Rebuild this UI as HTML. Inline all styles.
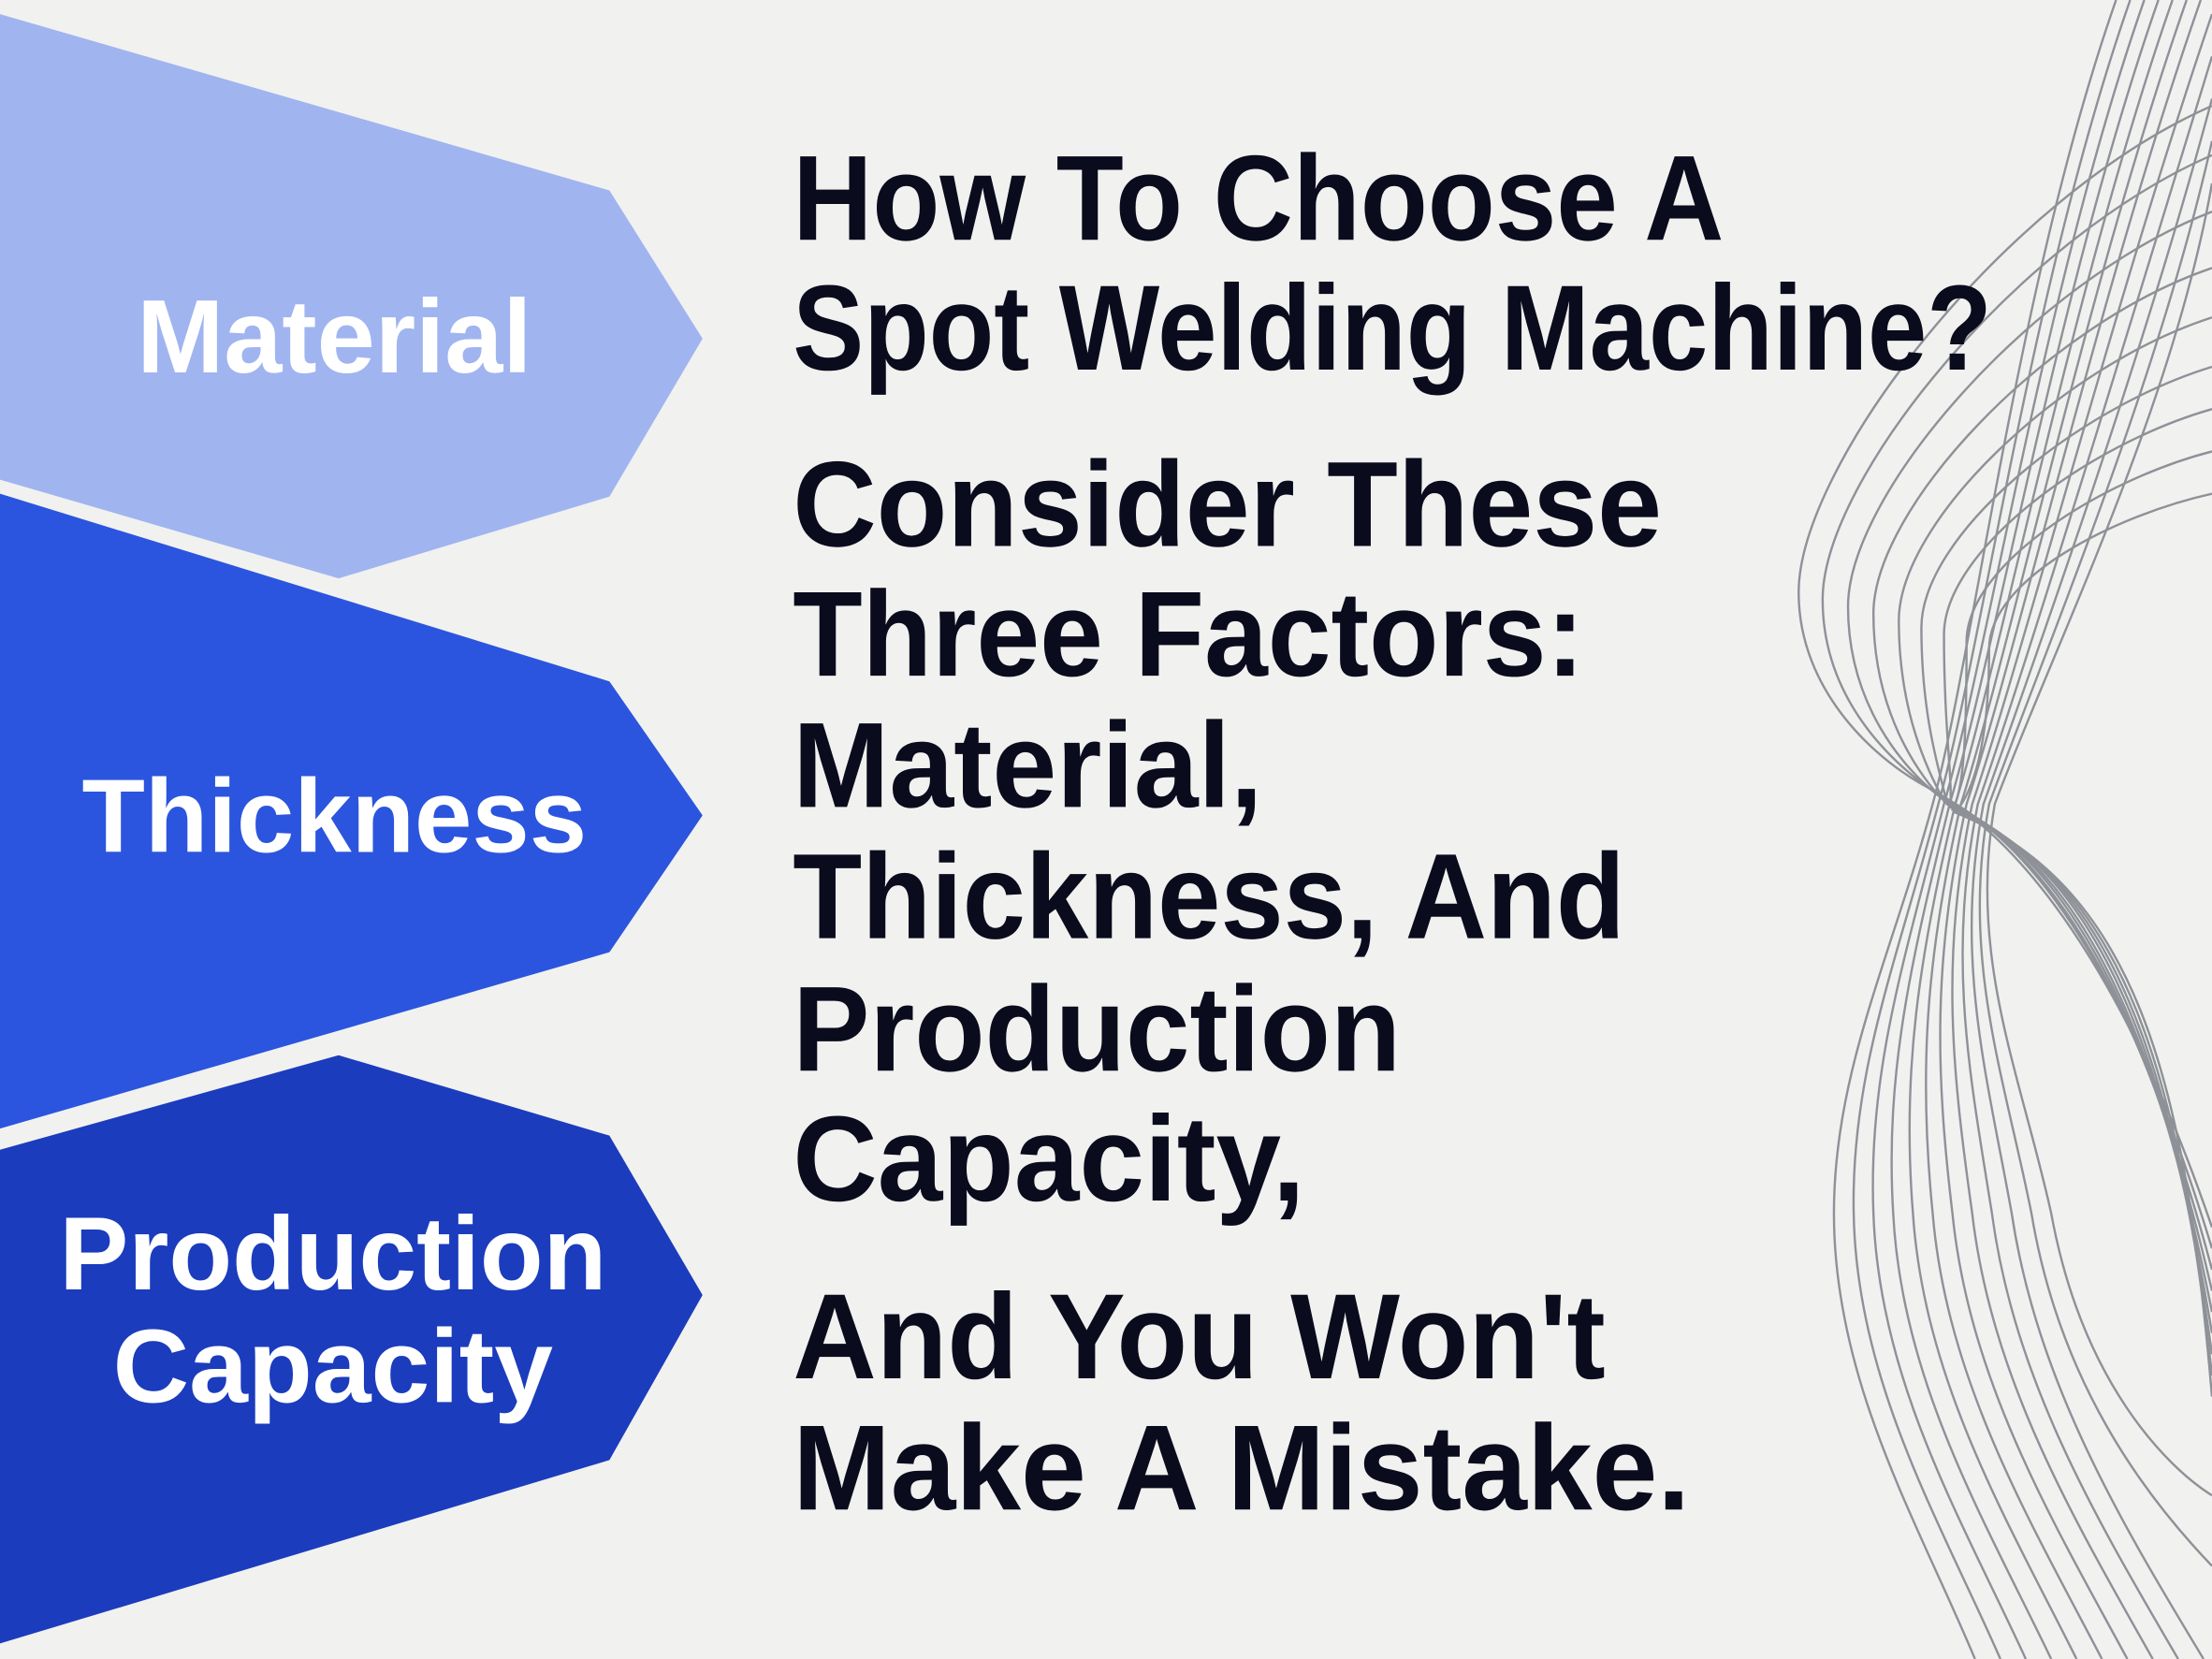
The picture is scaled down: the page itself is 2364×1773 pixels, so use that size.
<!DOCTYPE html>
<html><head><meta charset="utf-8"><style>
html,body{margin:0;padding:0;background:#f1f1ef;}
svg{display:block;}
</style></head><body>
<svg width="2364" height="1773" viewBox="0 0 1568 1176" preserveAspectRatio="none" xmlns="http://www.w3.org/2000/svg">
<rect width="1568" height="1176" fill="#f1f1ef"/>
<g fill="none" stroke="#8e9197" stroke-width="1.6">
<path d="M1500,0 C1430,200 1400,460 1370,570 C1340,680 1300,760 1300,860 C1300,980 1360,1080 1400,1176"/>
<path d="M1510,0 C1440,200 1405,460 1374,570 C1345,680 1312,760 1314,860 C1316,980 1376,1080 1418,1176"/>
<path d="M1520,0 C1450,200 1410,460 1378,570 C1350,680 1324,760 1328,860 C1332,980 1392,1080 1436,1176"/>
<path d="M1530,0 C1460,200 1415,460 1382,570 C1355,680 1336,760 1342,860 C1348,980 1408,1080 1454,1176"/>
<path d="M1540,0 C1470,200 1420,460 1386,570 C1360,680 1348,760 1356,860 C1364,980 1424,1080 1472,1176"/>
<path d="M1550,0 C1480,200 1425,460 1390,570 C1365,680 1360,760 1370,860 C1380,980 1440,1080 1490,1176"/>
<path d="M1560,0 C1490,200 1430,460 1394,570 C1370,680 1372,760 1384,860 C1396,980 1456,1080 1508,1176"/>
<path d="M1568,10 C1500,210 1435,460 1398,570 C1375,680 1384,760 1398,860 C1412,980 1472,1080 1526,1176"/>
<path d="M1568,40 C1510,230 1440,460 1402,570 C1380,680 1396,760 1412,860 C1428,980 1488,1080 1544,1176"/>
<path d="M1568,70 C1520,250 1445,460 1406,570 C1385,680 1408,760 1426,860 C1444,980 1504,1080 1562,1176"/>
<path d="M1568,100 C1530,270 1450,460 1410,570 C1390,680 1420,760 1440,860 C1460,980 1520,1060 1568,1110"/>
<path d="M1568,130 C1540,290 1455,460 1414,570 C1395,680 1432,760 1454,860 C1476,980 1536,1040 1568,1060"/>
<path d="M1568,75 C1420,140 1275,330 1275,420 C1275,490 1330,540 1370,560 C1440,600 1510,700 1568,870"/>
<path d="M1568,110 C1430,170 1292,340 1292,425 C1292,495 1340,540 1372,562 C1450,600 1515,710 1568,885"/>
<path d="M1568,150 C1440,200 1310,350 1310,430 C1310,500 1350,545 1374,564 C1460,605 1520,720 1568,900"/>
<path d="M1568,190 C1450,230 1328,360 1328,435 C1328,505 1360,548 1376,566 C1470,608 1525,730 1568,915"/>
<path d="M1568,225 C1460,260 1346,370 1346,440 C1346,510 1370,552 1378,568 C1480,612 1530,740 1568,930"/>
<path d="M1568,260 C1470,290 1362,380 1362,445 C1362,515 1378,555 1380,570 C1490,615 1535,750 1568,945"/>
<path d="M1568,290 C1480,315 1378,390 1378,450 C1378,520 1385,558 1382,572 C1500,620 1540,760 1568,960"/>
<path d="M1568,320 C1490,340 1394,400 1394,455 C1394,525 1392,560 1384,574 C1510,625 1545,770 1568,975"/>
<path d="M1568,350 C1500,365 1410,410 1410,460 C1410,530 1398,562 1386,576 C1520,630 1550,780 1568,990"/>
</g>
<polygon points="0,10 432,135 498,240 432,352 240,410 0,340" fill="#a0b4f0"/>
<polygon points="0,350 432,483 498,578 432,675 0,800" fill="#2b55de"/>
<polygon points="0,815 240,748 432,805 498,918 432,1035 0,1165" fill="#1b3cbd"/>
<g font-family="Liberation Sans, sans-serif" font-weight="bold" fill="#ffffff" font-size="74">
<text x="97" y="264" textLength="280" lengthAdjust="spacingAndGlyphs">Material</text>
<text x="58" y="604" textLength="358" lengthAdjust="spacingAndGlyphs">Thickness</text>
<text x="42" y="914" textLength="388" lengthAdjust="spacingAndGlyphs">Production</text>
<text x="80" y="994" textLength="312" lengthAdjust="spacingAndGlyphs">Capacity</text>
</g>
<g font-family="Liberation Sans, sans-serif" font-weight="bold" fill="#0b0b1e" font-size="86">
<text x="562" y="170" textLength="660" lengthAdjust="spacingAndGlyphs">How To Choose A</text>
<text x="562" y="262" textLength="850" lengthAdjust="spacingAndGlyphs">Spot Welding Machine?</text>
<text x="562" y="387" textLength="616" lengthAdjust="spacingAndGlyphs">Consider These</text>
<text x="562" y="479" textLength="561" lengthAdjust="spacingAndGlyphs">Three Factors:</text>
<text x="562" y="572" textLength="333" lengthAdjust="spacingAndGlyphs">Material,</text>
<text x="562" y="665" textLength="590" lengthAdjust="spacingAndGlyphs">Thickness, And</text>
<text x="562" y="759" textLength="431" lengthAdjust="spacingAndGlyphs">Production</text>
<text x="562" y="851" textLength="363" lengthAdjust="spacingAndGlyphs">Capacity,</text>
<text x="562" y="977" textLength="576" lengthAdjust="spacingAndGlyphs">And You Won't</text>
<text x="562" y="1070" textLength="636" lengthAdjust="spacingAndGlyphs">Make A Mistake.</text>
</g>
</svg>
</body></html>
